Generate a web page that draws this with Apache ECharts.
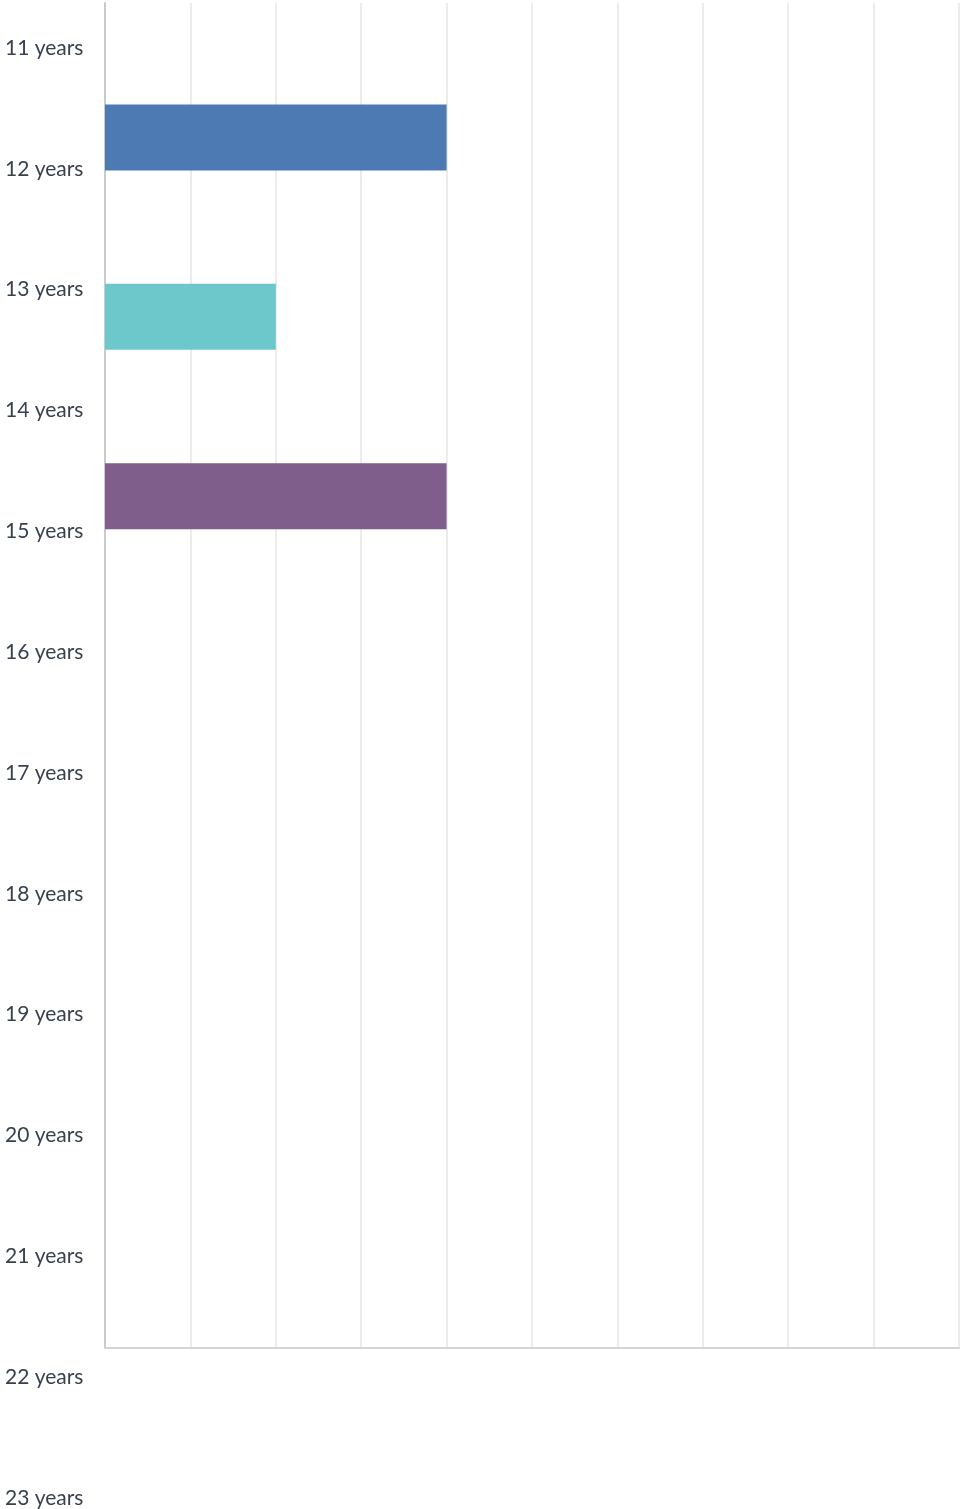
<!DOCTYPE html>
<html>
<head>
<meta charset="utf-8">
<script src="https://cdn.jsdelivr.net/npm/echarts@6/dist/echarts.min.js"></script>
<style>
html,body{margin:0;padding:0;background:#fff;}
#chart{width:961px;height:1509px;}
</style>
</head>
<body>
<div id="chart"></div>
<script>
// Row labels shown on the left
const yearLabels = ['11 years','12 years','13 years','14 years','15 years','16 years','17 years','18 years','19 years','20 years','21 years','22 years','23 years'];
// Bar slots of the plot area (top to bottom)
const barSlots = ['s1','s2','s3','s4','s5','s6','s7','s8','s9','s10','s11','s12','s13','s14','s15'];
// Series values per slot
const blueValues   = [null,4,null,null,null,null,null,null,null,null,null,null,null,null,null];
const tealValues   = [null,null,null,2,null,null,null,null,null,null,null,null,null,null,null];
const purpleValues = [null,null,null,null,null,4,null,null,null,null,null,null,null,null,null];
const xMin = 0, xMax = 10, xStep = 1;

const chart = echarts.init(document.getElementById('chart'), null, {renderer:'canvas'});
const font = 'Lato, "Noto Sans", sans-serif';
chart.setOption({
  animation:false,
  backgroundColor:'#fff',
  grid:[
    {left:105, right:2, top:3, bottom:161, containLabel:false},
    {left:105, right:2, top:48, bottom:11, containLabel:false}
  ],
  xAxis:[
    {gridIndex:0, type:'value', min:xMin, max:xMax, interval:xStep,
     axisLabel:{show:false}, axisTick:{show:false},
     axisLine:{show:true, lineStyle:{color:'#d4d4d4', width:2}},
     splitLine:{show:true, lineStyle:{color:'#ececec', width:2}}},
    {gridIndex:1, type:'value', show:false, min:0, max:1}
  ],
  yAxis:[
    {gridIndex:0, type:'category', data:barSlots, inverse:true,
     axisLabel:{show:false}, axisTick:{show:false},
     axisLine:{show:true, lineStyle:{color:'#cbcbcb', width:2}},
     splitLine:{show:false}},
    {gridIndex:1, type:'category', data:yearLabels, inverse:true, boundaryGap:false,
     axisLine:{show:false}, axisTick:{show:false}, splitLine:{show:false},
     axisLabel:{show:true, align:'left', margin:100, color:'#38414e', fontSize:21, fontFamily:font, interval:0}}
  ],
  series:[
    {type:'bar', xAxisIndex:0, yAxisIndex:0, stack:'all', data:blueValues, barWidth:66, itemStyle:{color:'#4e7ab4'}},
    {type:'bar', xAxisIndex:0, yAxisIndex:0, stack:'all', data:tealValues, barWidth:66, itemStyle:{color:'#6cc8cb'}},
    {type:'bar', xAxisIndex:0, yAxisIndex:0, stack:'all', data:purpleValues, barWidth:66, itemStyle:{color:'#7f5e8c'}}
  ]
});
</script>
</body>
</html>
